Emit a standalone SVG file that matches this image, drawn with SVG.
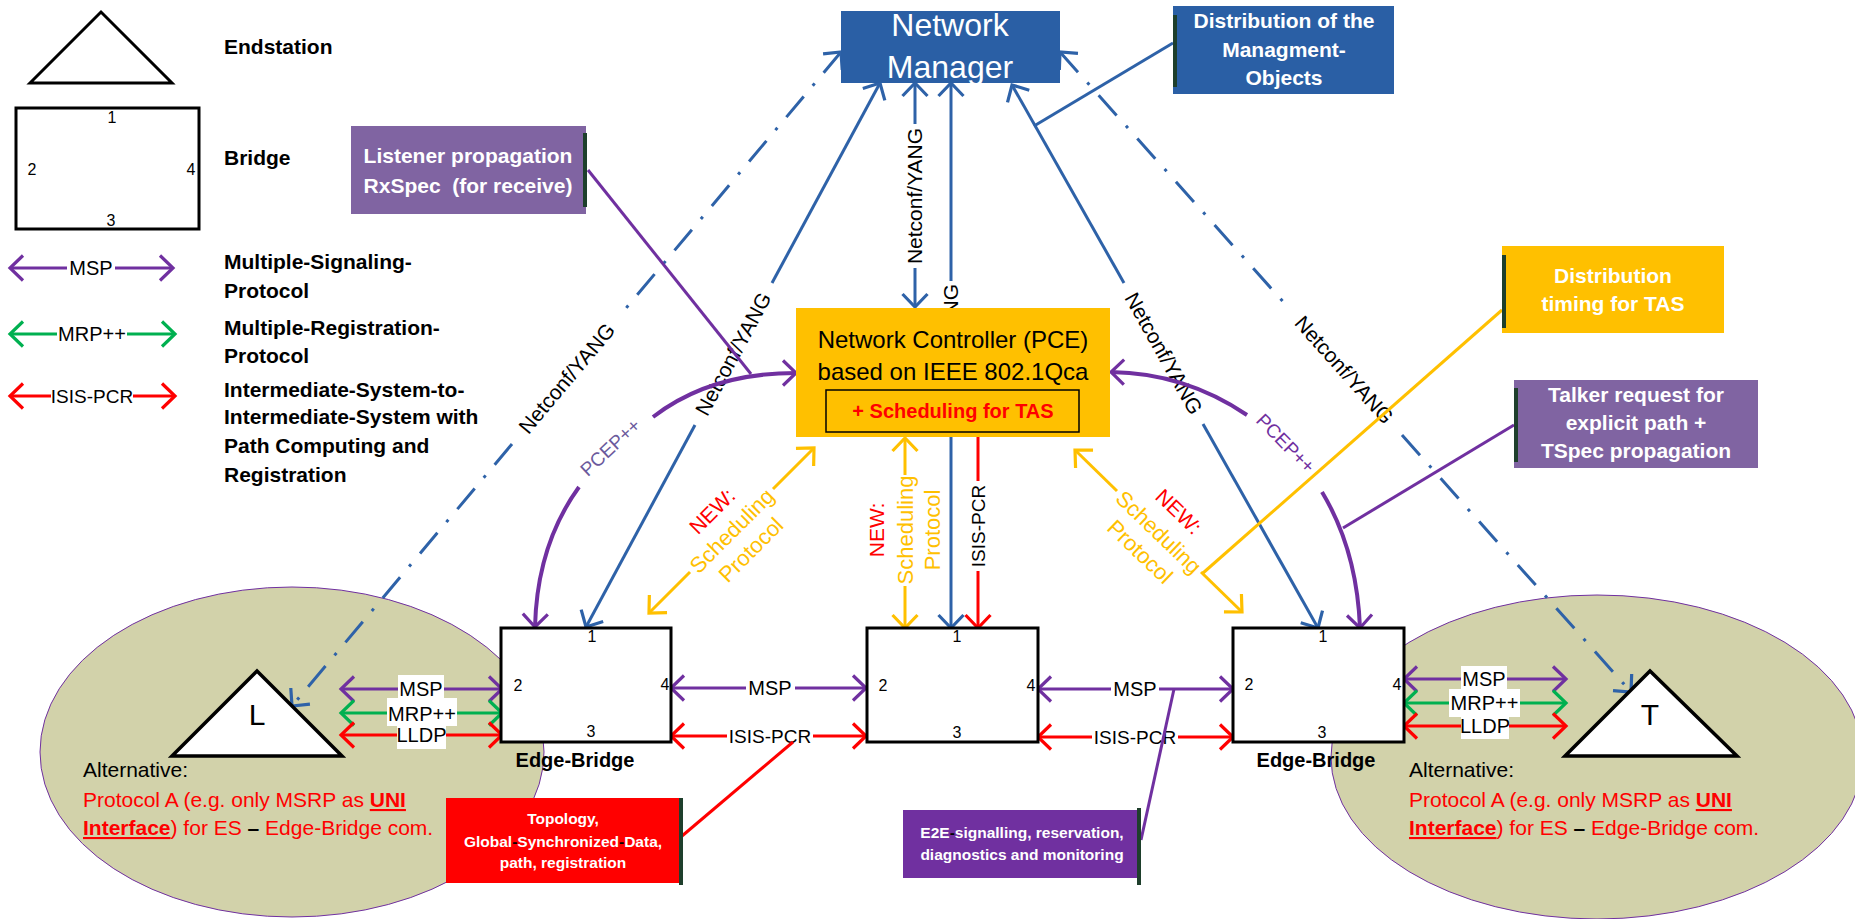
<svg xmlns="http://www.w3.org/2000/svg" width="1855" height="919" viewBox="0 0 1855 919">
<style>
text{font-family:"Liberation Sans",Arial,Helvetica,sans-serif;fill:#000}
.b{font-weight:bold}
.m{text-anchor:middle}
.ln{fill:none;stroke-width:3}
.P{stroke:#7030A0}
.B{stroke:#2E62A8}
.Y{stroke:#FFC000}
.R{stroke:#FF0000}
.G{stroke:#00B050}
.dd{stroke-dasharray:27 14 3 14}
.arc{fill:none;stroke:#7030A0;stroke-width:4}
.box{stroke:#000;stroke-width:3;fill:#fff}
.stripe{stroke:#1E3F2C;stroke-width:4}
.port{font-size:16px}
.lab{font-size:20px}
.isis{font-size:19px}
.nc{font-size:21px}
.leg{font-size:21px;font-weight:bold}
.note{font-size:21px;font-weight:bold;fill:#fff;text-anchor:middle}
.small{font-size:15.5px;font-weight:bold;fill:#fff;text-anchor:middle}
.alt{font-size:21px}
.redt{fill:#FF0000}
.yt{fill:#FFC000;font-size:22px}
.newt{fill:#FF0000;font-size:21px}
</style>
<defs>
<marker id="mP" markerUnits="userSpaceOnUse" markerWidth="32" markerHeight="32" refX="16" refY="16" orient="auto-start-reverse"><path d="M3,3.5 L16,16 L3,28.5" fill="none" stroke="#7030A0" stroke-width="3.2"/></marker>
<marker id="mB" markerUnits="userSpaceOnUse" markerWidth="32" markerHeight="32" refX="16" refY="16" orient="auto-start-reverse"><path d="M3,3.5 L16,16 L3,28.5" fill="none" stroke="#2E62A8" stroke-width="3.2"/></marker>
<marker id="mY" markerUnits="userSpaceOnUse" markerWidth="32" markerHeight="32" refX="16" refY="16" orient="auto-start-reverse"><path d="M3,3.5 L16,16 L3,28.5" fill="none" stroke="#FFC000" stroke-width="3.2"/></marker>
<marker id="mR" markerUnits="userSpaceOnUse" markerWidth="32" markerHeight="32" refX="16" refY="16" orient="auto-start-reverse"><path d="M3,3.5 L16,16 L3,28.5" fill="none" stroke="#FF0000" stroke-width="3.2"/></marker>
<marker id="mG" markerUnits="userSpaceOnUse" markerWidth="32" markerHeight="32" refX="16" refY="16" orient="auto-start-reverse"><path d="M3,3.5 L16,16 L3,28.5" fill="none" stroke="#00B050" stroke-width="3.2"/></marker>
</defs>

<g id="zone-left">
<ellipse cx="292" cy="752" rx="252" ry="165" fill="#D2D2AA" stroke="#7030A0" stroke-width="1"/>
<text x="83" y="777" class="alt">Alternative:</text>
<text x="83" y="807" class="alt redt">Protocol A (e.g. only MSRP as <tspan class="b" text-decoration="underline">UNI</tspan></text>
<text x="83" y="835" class="alt redt"><tspan class="b" text-decoration="underline">Interface</tspan>) for ES <tspan fill="#000" font-weight="bold">–</tspan> Edge-Bridge com.</text>
</g>
<g id="zone-right">
<ellipse cx="1597" cy="757" rx="266" ry="162" fill="#D2D2AA" stroke="#7030A0" stroke-width="1"/>
<text x="1409" y="777" class="alt">Alternative:</text>
<text x="1409" y="807" class="alt redt">Protocol A (e.g. only MSRP as <tspan class="b" text-decoration="underline">UNI</tspan></text>
<text x="1409" y="835" class="alt redt"><tspan class="b" text-decoration="underline">Interface</tspan>) for ES <tspan fill="#000" font-weight="bold">–</tspan> Edge-Bridge com.</text>
</g>

<g id="legend">
<polygon points="30,83 101,12 172,83" fill="#fff" stroke="#000" stroke-width="3"/>
<text x="224" y="54" class="leg">Endstation</text>
<rect x="16" y="108" width="183" height="121" class="box"/>
<text class="port m" x="112" y="123">1</text>
<text class="port m" x="32" y="175">2</text>
<text class="port m" x="191" y="175">4</text>
<text class="port m" x="111" y="226">3</text>
<text x="224" y="165" class="leg">Bridge</text>
<line x1="10" y1="268" x2="67" y2="268" class="ln P" marker-start="url(#mP)"/>
<line x1="115" y1="268" x2="173" y2="268" class="ln P" marker-end="url(#mP)"/>
<text x="91" y="275" class="lab m">MSP</text>
<text x="224" y="269" class="leg">Multiple-Signaling-</text>
<text x="224" y="298" class="leg">Protocol</text>
<line x1="10" y1="334" x2="57" y2="334" class="ln G" marker-start="url(#mG)"/>
<line x1="127" y1="334" x2="175" y2="334" class="ln G" marker-end="url(#mG)"/>
<text x="92" y="341" class="lab m">MRP++</text>
<text x="224" y="335" class="leg">Multiple-Registration-</text>
<text x="224" y="363" class="leg">Protocol</text>
<line x1="10" y1="396" x2="51" y2="396" class="ln R" marker-start="url(#mR)"/>
<line x1="133" y1="396" x2="175" y2="396" class="ln R" marker-end="url(#mR)"/>
<text x="92" y="403" class="isis m">ISIS-PCR</text>
<text x="224" y="397" class="leg">Intermediate-System-to-</text>
<text x="224" y="424" class="leg">Intermediate-System with</text>
<text x="224" y="453" class="leg">Path Computing and</text>
<text x="224" y="482" class="leg">Registration</text>
</g>

<g id="connectors">
<!-- dash-dot Netconf/YANG to endstations -->
<line x1="841" y1="52" x2="622" y2="313" class="ln B dd" marker-start="url(#mB)"/>
<line x1="512" y1="444" x2="292" y2="706" class="ln B dd" marker-end="url(#mB)"/>
<text transform="translate(567,378.5) rotate(-50)" y="7" class="nc m">Netconf/YANG</text>
<line x1="1060" y1="52" x2="1286" y2="305" class="ln B dd" marker-start="url(#mB)"/>
<line x1="1402" y1="435" x2="1631" y2="692" class="ln B dd" marker-end="url(#mB)"/>
<text transform="translate(1344,370) rotate(48.3)" y="7" class="nc m">Netconf/YANG</text>
<!-- NM to left bridge -->
<line x1="880" y1="83" x2="772" y2="283" class="ln B" marker-start="url(#mB)"/>
<line x1="695" y1="425" x2="586" y2="627" class="ln B" marker-end="url(#mB)"/>
<text transform="translate(733.5,354) rotate(-61.6)" y="7" class="nc m">Netconf/YANG</text>
<!-- NM to NC -->
<line x1="915" y1="83" x2="915" y2="124" class="ln B" marker-start="url(#mB)"/>
<line x1="915" y1="268" x2="915" y2="307" class="ln B" marker-end="url(#mB)"/>
<text transform="translate(915,196) rotate(-90)" y="7" class="nc m">Netconf/YANG</text>
<!-- NM to middle bridge -->
<line x1="951" y1="83" x2="951" y2="281" class="ln B" marker-start="url(#mB)"/>
<text transform="translate(951,352) rotate(-90)" y="7" class="nc m">Netconf/YANG</text>
<line x1="951" y1="437" x2="951" y2="628" class="ln B" marker-end="url(#mB)"/>
<!-- NM to right bridge -->
<line x1="1012" y1="85" x2="1124" y2="283" class="ln B" marker-start="url(#mB)"/>
<line x1="1203" y1="424" x2="1318" y2="628" class="ln B" marker-end="url(#mB)"/>
<text transform="translate(1163.5,353.5) rotate(60.6)" y="7" class="nc m">Netconf/YANG</text>
<!-- annotation lines -->
<line x1="1173" y1="43" x2="1034" y2="126" class="ln B"/>
<line x1="588" y1="170" x2="751" y2="374" class="ln P"/>
<!-- PCEP++ arcs -->
<path d="M653,417 Q710,373 796,373" class="arc" marker-end="url(#mP)"/>
<path d="M579,487 Q537,545 535,627" class="arc" marker-end="url(#mP)"/>
<text transform="translate(610,447) rotate(-43)" y="7" font-size="19" class="m" style="fill:#6B5A9C">PCEP++</text>
<path d="M1247,415 Q1185,373 1111,372" class="arc" marker-end="url(#mP)"/>
<path d="M1322,492 Q1357,550 1360,628" class="arc" marker-end="url(#mP)"/>
<text transform="translate(1286,443) rotate(45.5)" y="7" font-size="19" class="m" style="fill:#7030A0">PCEP++</text>
<line x1="1514" y1="425" x2="1343" y2="528" class="ln P"/>
<!-- Scheduling protocol -->
<line x1="814" y1="448" x2="773" y2="489" class="ln Y" marker-start="url(#mY)"/>
<line x1="690" y1="572" x2="649" y2="613" class="ln Y" marker-end="url(#mY)"/>
<g transform="translate(731.5,530.5) rotate(-45)">
<text y="-20" class="newt m">NEW:</text>
<text y="8" class="yt m">Scheduling</text>
<text y="35" class="yt m">Protocol</text>
</g>
<line x1="905" y1="438" x2="905" y2="475" class="ln Y" marker-start="url(#mY)"/>
<line x1="905" y1="586" x2="905" y2="628" class="ln Y" marker-end="url(#mY)"/>
<g transform="translate(905,530) rotate(-90)">
<text y="-21" class="newt m">NEW:</text>
<text y="8" class="yt m">Scheduling</text>
<text y="35" class="yt m">Protocol</text>
</g>
<line x1="1075" y1="450" x2="1117" y2="491" class="ln Y" marker-start="url(#mY)"/>
<line x1="1201" y1="572" x2="1242" y2="612" class="ln Y" marker-end="url(#mY)"/>
<g transform="translate(1159,532) rotate(44)">
<text y="-21" class="newt m">NEW:</text>
<text y="8" class="yt m">Scheduling</text>
<text y="35" class="yt m">Protocol</text>
</g>
<line x1="1502" y1="310" x2="1203" y2="573" class="ln Y"/>
<!-- ISIS-PCR NC to middle bridge -->
<line x1="978" y1="437" x2="978" y2="481" class="ln R"/>
<line x1="978" y1="571" x2="978" y2="628" class="ln R" marker-end="url(#mR)"/>
<text transform="translate(978,526) rotate(-90)" y="7" class="isis m">ISIS-PCR</text>
<!-- bridge to bridge -->
<line x1="671" y1="688" x2="746" y2="688" class="ln P" marker-start="url(#mP)"/>
<line x1="795" y1="688" x2="866" y2="688" class="ln P" marker-end="url(#mP)"/>
<text x="770" y="695" class="lab m">MSP</text>
<line x1="671" y1="736" x2="727" y2="736" class="ln R" marker-start="url(#mR)"/>
<line x1="813" y1="736" x2="866" y2="736" class="ln R" marker-end="url(#mR)"/>
<text x="770" y="743" class="isis m">ISIS-PCR</text>
<line x1="1038" y1="689" x2="1111" y2="689" class="ln P" marker-start="url(#mP)"/>
<line x1="1159" y1="689" x2="1233" y2="689" class="ln P" marker-end="url(#mP)"/>
<text x="1135" y="696" class="lab m">MSP</text>
<line x1="1038" y1="737" x2="1092" y2="737" class="ln R" marker-start="url(#mR)"/>
<line x1="1178" y1="737" x2="1233" y2="737" class="ln R" marker-end="url(#mR)"/>
<text x="1135" y="744" class="isis m">ISIS-PCR</text>
<!-- endstation links left -->
<line x1="341" y1="689" x2="502" y2="689" class="ln P" marker-start="url(#mP)" marker-end="url(#mP)"/>
<line x1="341" y1="713" x2="502" y2="713" class="ln G" marker-start="url(#mG)" marker-end="url(#mG)"/>
<line x1="341" y1="735" x2="502" y2="735" class="ln R" marker-start="url(#mR)" marker-end="url(#mR)"/>
<rect x="398" y="675" width="46" height="23" fill="#fff"/>
<rect x="387" y="698" width="70" height="28" fill="#fff"/>
<rect x="397" y="726" width="49" height="23" fill="#fff"/>
<text x="421" y="696" class="lab m">MSP</text>
<text x="422" y="721" class="lab m">MRP++</text>
<text x="421.5" y="742" class="lab m">LLDP</text>
<!-- endstation links right -->
<line x1="1404" y1="679" x2="1566" y2="679" class="ln P" marker-start="url(#mP)" marker-end="url(#mP)"/>
<line x1="1404" y1="703" x2="1566" y2="703" class="ln G" marker-start="url(#mG)" marker-end="url(#mG)"/>
<line x1="1404" y1="726" x2="1566" y2="726" class="ln R" marker-start="url(#mR)" marker-end="url(#mR)"/>
<rect x="1461" y="666" width="46" height="23" fill="#fff"/>
<rect x="1449" y="689" width="71" height="28" fill="#fff"/>
<rect x="1461" y="717" width="48" height="22" fill="#fff"/>
<text x="1484" y="686" class="lab m">MSP</text>
<text x="1484.5" y="710" class="lab m">MRP++</text>
<text x="1485" y="733" class="lab m">LLDP</text>
<!-- note lines -->
<line x1="682" y1="836" x2="793" y2="742" class="ln R"/>
<line x1="1141" y1="840" x2="1174" y2="689" class="ln P"/>
</g>

<g id="network-manager">
<rect x="841" y="11" width="219" height="72" fill="#2A5FA5"/>
<text x="950" y="36" font-size="32" class="m" style="fill:#fff">Network</text>
<text x="950" y="78" font-size="32" class="m" style="fill:#fff">Manager</text>
</g>

<g id="note-mgmt">
<rect x="1173" y="6" width="221" height="88" fill="#2A5FA5"/>
<line x1="1175" y1="15" x2="1175" y2="87" class="stripe"/>
<text x="1284" y="28" class="note">Distribution of the</text>
<text x="1284" y="57" class="note">Managment-</text>
<text x="1284" y="85" class="note">Objects</text>
</g>

<g id="note-listener">
<rect x="351" y="126" width="235" height="88" fill="#8064A2"/>
<line x1="585" y1="133" x2="585" y2="207" class="stripe"/>
<text x="468" y="163" class="note">Listener propagation</text>
<text x="468" y="193" class="note" xml:space="preserve">RxSpec  (for receive)</text>
</g>

<g id="note-timing">
<rect x="1502" y="246" width="222" height="87" fill="#FFC000"/>
<line x1="1504" y1="255" x2="1504" y2="328" class="stripe"/>
<text x="1613" y="283" class="note">Distribution</text>
<text x="1613" y="311" class="note">timing for TAS</text>
</g>

<g id="note-talker">
<rect x="1514" y="380" width="244" height="88" fill="#8064A2"/>
<line x1="1516" y1="388" x2="1516" y2="462" class="stripe"/>
<text x="1636" y="402" class="note">Talker request for</text>
<text x="1636" y="430" class="note">explicit path +</text>
<text x="1636" y="458" class="note">TSpec propagation</text>
</g>

<g id="network-controller">
<rect x="796" y="308" width="314" height="129" fill="#FFC000"/>
<text x="953" y="348" font-size="24" class="m">Network Controller (PCE)</text>
<text x="953" y="380" font-size="24" class="m">based on IEEE 802.1Qca</text>
<rect x="826" y="390" width="253" height="42" fill="none" stroke="#000" stroke-width="1.5"/>
<text x="953" y="418" font-size="20" class="b m" style="fill:#FF0000">+ Scheduling for TAS</text>
</g>

<g id="bridge-left">
<rect x="501" y="628" width="170" height="114" class="box"/>
<text class="port m" x="592" y="642">1</text>
<text class="port m" x="518" y="691">2</text>
<text class="port m" x="665" y="690">4</text>
<text class="port m" x="591" y="737">3</text>
<text x="575" y="767" font-size="20" class="b m">Edge-Bridge</text>
</g>

<g id="bridge-middle">
<rect x="867" y="628" width="171" height="114" class="box"/>
<text class="port m" x="957" y="642">1</text>
<text class="port m" x="883" y="691">2</text>
<text class="port m" x="1031" y="691">4</text>
<text class="port m" x="957" y="738">3</text>
</g>

<g id="bridge-right">
<rect x="1233" y="628" width="171" height="114" class="box"/>
<text class="port m" x="1323" y="642">1</text>
<text class="port m" x="1249" y="690">2</text>
<text class="port m" x="1397" y="690">4</text>
<text class="port m" x="1322" y="738">3</text>
<text x="1316" y="767" font-size="20" class="b m">Edge-Bridge</text>
</g>

<g id="endstation-L">
<polygon points="172,756 257,671 342,756" fill="#fff" stroke="#000" stroke-width="3.5"/>
<text x="257" y="725" font-size="30" class="m">L</text>
</g>

<g id="endstation-T">
<polygon points="1565,756 1650,671 1737,756" fill="#fff" stroke="#000" stroke-width="3.5"/>
<text x="1650" y="725" font-size="30" class="m">T</text>
</g>

<g id="note-topology">
<rect x="446" y="798" width="236" height="85" fill="#FF0000"/>
<line x1="681" y1="798" x2="681" y2="885" class="stripe"/>
<text x="563" y="824" class="small">Topology,</text>
<text x="563" y="847" class="small">Global<tspan style="fill:#000">-</tspan>Synchronized<tspan style="fill:#000">-</tspan>Data,</text>
<text x="563" y="868" class="small">path, registration</text>
</g>

<g id="note-e2e">
<rect x="903" y="810" width="235" height="68" fill="#7030A0"/>
<line x1="1139" y1="808" x2="1139" y2="885" class="stripe"/>
<text x="1022" y="838" class="small">E2E<tspan style="fill:#000">-</tspan>signalling, reservation,</text>
<text x="1022" y="860" class="small">diagnostics and monitoring</text>
</g>
</svg>
